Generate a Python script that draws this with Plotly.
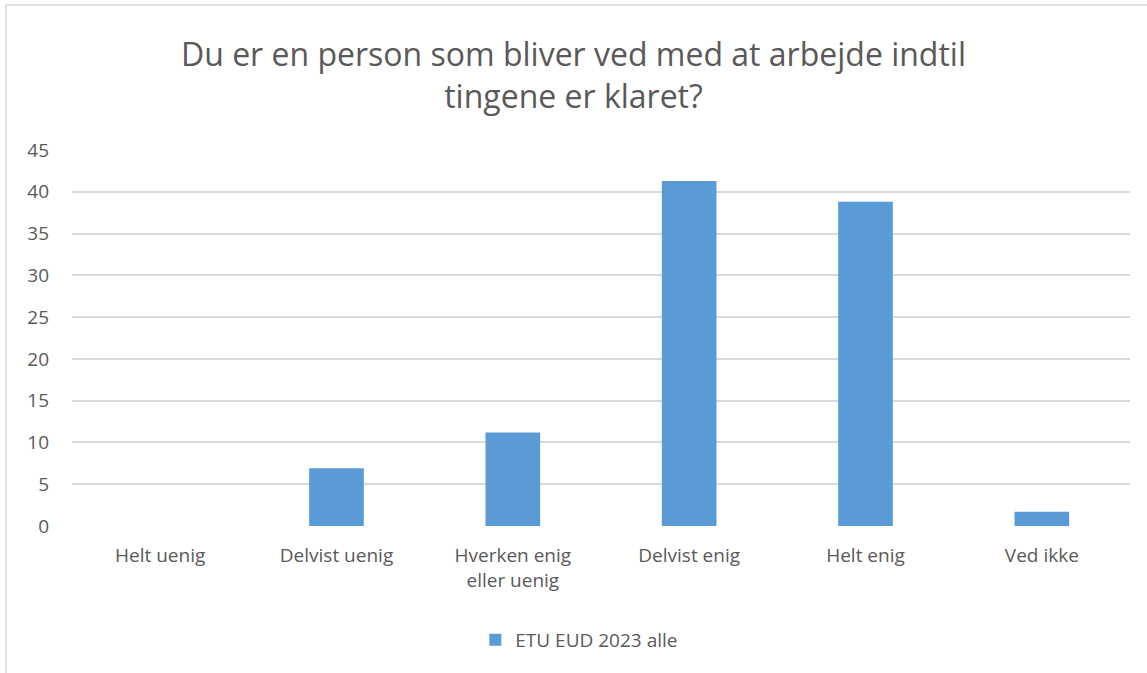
import plotly.graph_objects as go

categories = ["Helt uenig", "Delvist uenig", "Hverken enig<br>eller uenig", "Delvist enig", "Helt enig", "Ved ikke"]
values = [0, 6.9, 11.2, 41.3, 38.8, 1.7]
series_name = "ETU EUD 2023 alle"
title_text = "Du er en person som bliver ved med at arbejde indtil<br>tingene er klaret?"
y_ticks = list(range(0, 50, 5))

fig = go.Figure()
fig.add_trace(go.Bar(
    x=categories, y=values, name=series_name,
    marker=dict(color="#5b9bd5", line=dict(width=0)),
    showlegend=True,
))

fig.update_layout(
    width=1147, height=673,
    paper_bgcolor="white", plot_bgcolor="white",
    margin=dict(l=72, r=17, t=150, b=147),
    font=dict(family="Open Sans", color="#595959", size=19),
    title=dict(text=title_text, x=0.5, xanchor="center", y=1 - 66 / 673, yanchor="middle",
               font=dict(family="Open Sans", size=32, color="#595959")),
    bargap=0.69,
    showlegend=True,
    legend=dict(orientation="h", x=0.4795, xanchor="center", y=-0.303, yanchor="middle",
                font=dict(size=19, color="#595959")),
    xaxis=dict(showline=False, ticks="", ticklabelstandoff=16,
               tickfont=dict(size=19, color="#595959")),
    yaxis=dict(range=[0, 45], tickvals=y_ticks, showgrid=True, gridcolor="#d9d9d9", gridwidth=1.5,
               zeroline=False, showline=False, ticks="", ticklabelstandoff=22,
               tickfont=dict(size=19, color="#595959")),
    shapes=[dict(type="rect", xref="paper", yref="paper",
                 x0=(6 - 72) / 1058, x1=1.1, y0=-0.6, y1=(526 - 5) / 376,
                 line=dict(color="#d9d9d9", width=1.5), fillcolor="rgba(0,0,0,0)", layer="below")],
)

fig.write_html("out.html", config={"displayModeBar": False},
               post_script="document.body.style.margin='0px';")
